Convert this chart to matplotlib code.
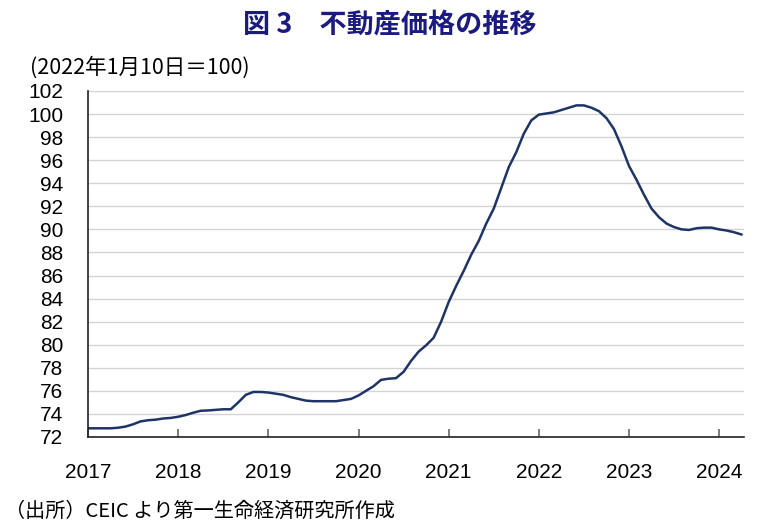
import numpy as np
import matplotlib
matplotlib.use("Agg")
import matplotlib.pyplot as plt

# 月次 (2017年1月 ～ 2024年4月), 2022年1月10日=100
START_YEAR = 2017
values = [
    72.75, 72.75, 72.75, 72.75, 72.8, 72.9, 73.1, 73.35, 73.45, 73.5, 73.6, 73.65,   # 2017
    73.75, 73.9, 74.1, 74.27, 74.3, 74.35, 74.4, 74.4, 75.0, 75.65, 75.9, 75.9,      # 2018
    75.85, 75.75, 75.65, 75.45, 75.3, 75.15, 75.1, 75.1, 75.1, 75.1, 75.2, 75.3,     # 2019
    75.6, 76.0, 76.4, 76.95, 77.05, 77.1, 77.65, 78.6, 79.4, 79.95, 80.6, 82.0,      # 2020
    83.7, 85.1, 86.4, 87.8, 89.0, 90.5, 91.8, 93.6, 95.4, 96.7, 98.3, 99.45,         # 2021
    99.95, 100.05, 100.15, 100.35, 100.55, 100.75, 100.75, 100.55, 100.25, 99.65, 98.7, 97.2,  # 2022
    95.5, 94.3, 93.0, 91.8, 91.05, 90.5, 90.2, 90.0, 89.95, 90.1, 90.15, 90.15,      # 2023
    90.0, 89.9, 89.75, 89.55,                                                        # 2024
]
years = list(range(2017, 2025))
yticks = list(range(72, 103, 2))

TITLE = "図 3　不動産価格の推移"
UNIT = "(2022年1月10日＝100)"
SOURCE = "（出所）CEIC より第一生命経済研究所作成"

JP = ["Noto Sans CJK JP", "DejaVu Sans"]
NUM = ["Liberation Sans", "Noto Sans CJK JP"]

x = START_YEAR + np.arange(len(values)) / 12.0

fig = plt.figure(figsize=(7.79, 5.29), dpi=100)
ax = fig.add_axes([0.113, 0.174, 0.842, 0.654])

ax.plot(x, values, color="#1f3466", lw=1.8, solid_capstyle="round")

ax.set_xlim(2017, 2024.275)
ax.set_ylim(72, 102)
ax.set_yticks(yticks)
ax.set_xticks(years)
ax.set_xticklabels([str(y) for y in years], family=NUM, fontsize=15)
ax.set_yticklabels([str(v) for v in yticks], family=NUM, fontsize=15)

ax.grid(axis="y", color="#d4d4d4", lw=1.0)
ax.set_axisbelow(True)
for s in ["top", "right"]:
    ax.spines[s].set_visible(False)
ax.spines["left"].set_color("#222222")
ax.spines["bottom"].set_color("#222222")
ax.spines["left"].set_linewidth(1.2)
ax.spines["bottom"].set_linewidth(1.2)
ax.tick_params(axis="y", length=0, pad=18)
ax.tick_params(axis="x", direction="in", length=6, width=1.2, color="#666666", pad=18.5)

fig.text(0.5, 0.953, TITLE, ha="center", va="center", family=JP,
         fontsize=19.5, fontweight="bold", color="#1a1a80")
fig.text(0.038, 0.873, UNIT, ha="left", va="center", family=JP, fontsize=15.5)
fig.text(0.006, 0.033, SOURCE, ha="left", va="center", family=JP, fontsize=14.5)

fig.savefig("out.png", dpi=100)
